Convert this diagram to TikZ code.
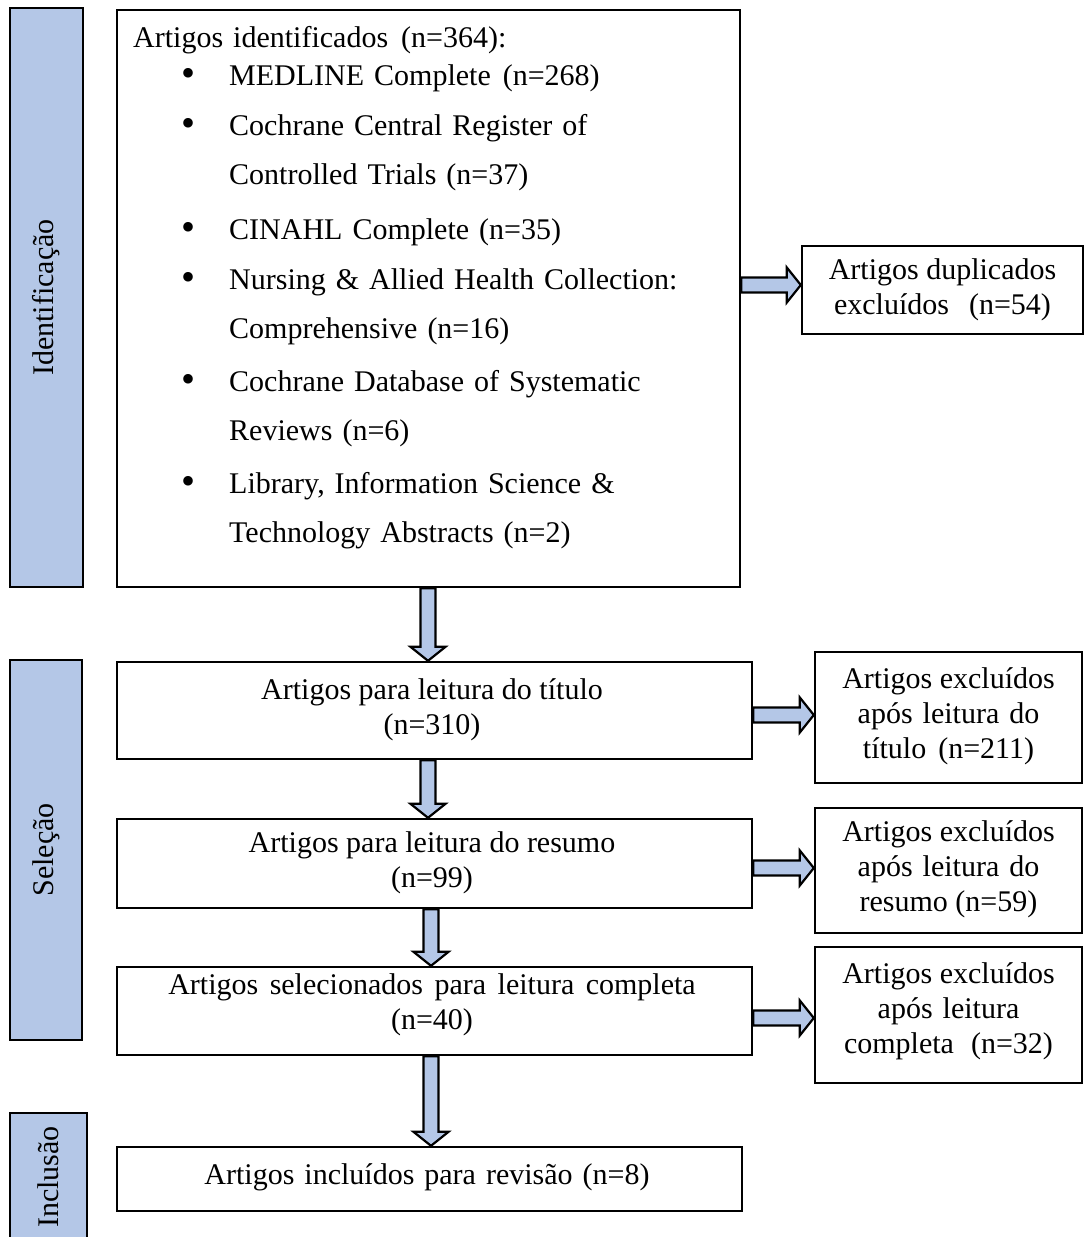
\documentclass[tikz,border=0pt]{standalone}
\usepackage{fontspec}
\setmainfont{Liberation Serif}
\usetikzlibrary{calc}
\definecolor{sideblue}{RGB}{180,199,231}
\newcommand\widesp{\spaceskip 10pt\relax}
\tikzset{
  frame/.style={draw=black, line width=2.4pt, fill=white, inner sep=0pt, rectangle},
  sidebox/.style={draw=black, line width=2.4pt, fill=sideblue, inner sep=0pt, rectangle},
  txt/.style={font=\fontsize{30}{35}\selectfont, align=center, inner sep=0pt},
  ltxt/.style={font=\fontsize{30}{35}\selectfont\widesp, anchor=base west, inner sep=0pt},
  btxt/.style={font=\fontsize{40}{35}\selectfont, anchor=base, inner sep=0pt},
  sidetxt/.style={font=\fontsize{30}{35}\selectfont, rotate=90, inner sep=0pt},
  blk/.style={draw=black, line width=2.2pt, fill=sideblue, line join=miter}
}
\newcommand\gapx[1]{\hspace{#1pt}}
\newcommand\vblk[3]{% from node #1 to node #2 at x=#3
  \draw[blk] let \p1=(#1.south), \p2=(#2.north) in
    (#3pt-7.5pt,\y1) -- (#3pt-7.5pt,\y2+14pt) -- (#3pt-17.5pt,\y2+14pt) -- (#3pt,\y2)
    -- (#3pt+17.5pt,\y2+14pt) -- (#3pt+7.5pt,\y2+14pt) -- (#3pt+7.5pt,\y1) -- cycle;}
\newcommand\hblk[3]{% from node #1 to node #2 at y=#3 (canvas, up positive)
  \draw[blk] let \p1=(#1.east), \p2=(#2.west) in
    (\x1,#3pt+7.5pt) -- (\x2-14pt,#3pt+7.5pt) -- (\x2-14pt,#3pt+17.5pt) -- (\x2,#3pt)
    -- (\x2-14pt,#3pt-17.5pt) -- (\x2-14pt,#3pt-7.5pt) -- (\x1,#3pt-7.5pt) -- cycle;}
\begin{document}
\begin{tikzpicture}[x=1pt,y=-1pt]
\useasboundingbox (0,0) rectangle (1084,1237);
\begin{scope}
\clip (0,0) rectangle (1084,1237);
% side boxes
\node[sidebox, minimum width=73pt, minimum height=579pt] (sid) at (46.5,297.5) {};
\node[sidetxt] (sidt) at (46.5,297.5) {Identificação};
\node[sidebox, minimum width=72pt, minimum height=380pt] (ssel) at (46,850) {};
\node[sidetxt] (sselt) at (46,850) {Seleção};
\node[sidebox, minimum width=77pt, minimum height=147pt] (sinc) at (48.5,1186.5) {};
\node[sidetxt] (sinct) at (48.5,1177) {Inclusão};

% main identification box
\node[frame, minimum width=623pt, minimum height=577pt] (main) at (428.5,298.5) {};
\node[ltxt] (h0) at (133,47) {Artigos identificados\gapx{13}(n=364):};
\node[btxt] (b1) at (188,86) {•};
\node[ltxt] (l1) at (229,85) {MEDLINE Complete\gapx{12}(n=268)};
\node[btxt] (b2) at (188,136) {•};
\node[ltxt] (l2) at (229,135) {Cochrane Central Register of};
\node[ltxt] (l2b) at (229,184) {Controlled Trials (n=37)};
\node[btxt] (b3) at (188,240) {•};
\node[ltxt] (l3) at (229,239) {CINAHL Complete (n=35)};
\node[btxt] (b4) at (188,290) {•};
\node[ltxt] (l4) at (229,289) {Nursing \& Allied Health Collection:};
\node[ltxt] (l4b) at (229,338) {Comprehensive (n=16)};
\node[btxt] (b5) at (188,392) {•};
\node[ltxt] (l5) at (229,391) {Cochrane Database of Systematic};
\node[ltxt] (l5b) at (229,440) {Reviews (n=6)};
\node[btxt] (b6) at (188,494) {•};
\node[ltxt] (l6) at (229,493) {Library, Information Science \&};
\node[ltxt] (l6b) at (229,542) {Technology Abstracts (n=2)};

% duplicates
\node[frame, minimum width=281pt, minimum height=88pt] (dup) at (942.5,290) {};
\node[txt] (dupt) at (942.5,290) {Artigos duplicados\\excluídos\gapx{20}(n=54)};

% selection boxes
\node[frame, minimum width=635pt, minimum height=97pt] (tit) at (434.5,710.5) {};
\node[txt] (titt) at (432,709.5) {Artigos para leitura do título\\(n=310)};
\node[frame, minimum width=267pt, minimum height=131pt] (ex1) at (948.5,717.5) {};
\node[txt] (ex1t) at (948.5,716) {Artigos excluídos\\após\gapx{10}leitura\gapx{10}do\\título\gapx{12}(n=211)};

\node[frame, minimum width=635pt, minimum height=89pt] (res) at (434.5,863.5) {};
\node[txt] (rest) at (432,863) {Artigos para leitura do resumo\\(n=99)};
\node[frame, minimum width=267pt, minimum height=125pt] (ex2) at (948.5,870.5) {};
\node[txt] (ex2t) at (948.5,869) {Artigos excluídos\\após\gapx{10}leitura\gapx{10}do\\resumo (n=59)};

\node[frame, minimum width=635pt, minimum height=88pt] (sel) at (434.5,1011) {};
\node[txt] (selt) at (432,1005) {Artigos\gapx{11.5}selecionados\gapx{11.5}para\gapx{11.5}leitura\gapx{11.5}completa\\(n=40)};
\node[frame, minimum width=267pt, minimum height=136pt] (ex3) at (948.5,1015) {};
\node[txt] (ex3t) at (948.5,1011) {Artigos excluídos\\após\gapx{10}leitura\\completa\gapx{17}(n=32)};

% inclusion
\node[frame, minimum width=625pt, minimum height=64pt] (inc) at (429.5,1179) {};
\node[txt] (inct) at (427,1177) {Artigos\gapx{10}incluídos\gapx{10}para\gapx{10}revisão\gapx{10}(n=8)};

% block arrows
\vblk{main}{tit}{428}
\vblk{tit}{res}{428}
\vblk{res}{sel}{431}
\vblk{sel}{inc}{431}
\hblk{main}{dup}{-285}
\hblk{tit}{ex1}{-715}
\hblk{res}{ex2}{-868}
\hblk{sel}{ex3}{-1018}
\end{scope}
\end{tikzpicture}
\end{document}
